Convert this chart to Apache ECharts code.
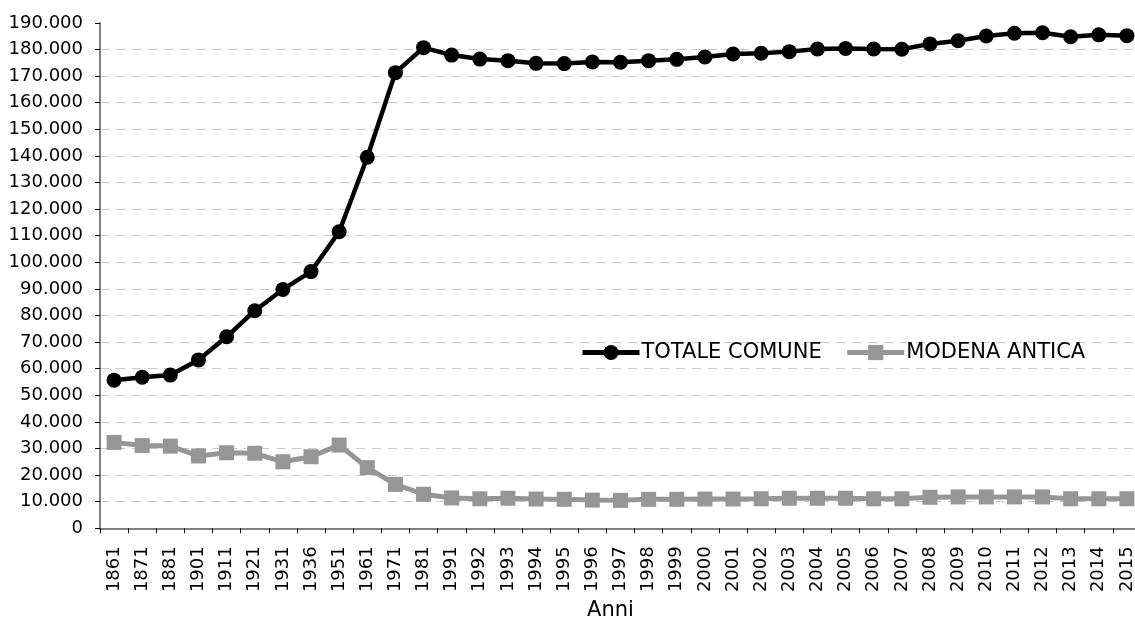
<!DOCTYPE html>
<html>
<head>
<meta charset="utf-8">
<script src="https://cdn.jsdelivr.net/npm/echarts@6/dist/echarts.min.js"></script>
<style>
html,body{margin:0;padding:0;background:#fff;}
#chart{width:1135px;height:617px;}
</style>
</head>
<body>
<div id="chart"></div>
<script>
var years = ['1861','1871','1881','1901','1911','1921','1931','1936','1951','1961','1971','1981','1991','1992','1993','1994','1995','1996','1997','1998','1999','2000','2001','2002','2003','2004','2005','2006','2007','2008','2009','2010','2011','2012','2013','2014','2015'];
var totaleComune = [55700,56800,57600,63300,72000,81800,89800,96500,111500,139500,171300,180700,177900,176400,175800,174800,174700,175300,175200,175800,176300,177200,178300,178600,179200,180200,180400,180200,180100,182100,183300,185100,186100,186300,184800,185500,185200];
var modenaAntica = [32300,31100,30900,27200,28400,28200,25000,26900,31300,22800,16500,12800,11400,11100,11300,11000,10900,10600,10500,10900,10900,11000,11000,11100,11300,11300,11300,11100,11100,11650,11800,11800,11800,11800,11100,11100,11100];
var seriesNames = ['TOTALE COMUNE','MODENA ANTICA'];
var axisTitle = 'Anni';

var chart = echarts.init(document.getElementById('chart'), null, {renderer:'canvas'});
var font = 'DejaVu Sans';
function fmt(v){
  if (v === 0) return '0';
  return String(v).replace(/\B(?=(\d{3})+(?!\d))/g, '.');
}
chart.setOption({
  animation:false,
  backgroundColor:'#fff',
  grid:{left:100, right:-6, top:22.9, bottom:88.7, containLabel:false, outerBoundsMode:'none'},
  legend:{
    left:575, top:337,
    itemWidth:57, itemHeight:19, itemGap:23,
    lineStyle:{width:5},
    textStyle:{fontFamily:font, fontSize:21, color:'#000', padding:[0,0,0,-3]},
    data:seriesNames
  },
  xAxis:{
    type:'category', data:years, boundaryGap:true,
    name:axisTitle, nameLocation:'middle', nameGap:70,
    nameTextStyle:{fontFamily:font, fontSize:21, color:'#000', padding:[0,20,0,0]},
    axisLine:{lineStyle:{color:'#808080', width:2}},
    axisTick:{show:true, length:5, lineStyle:{color:'#000', width:1}, alignWithLabel:false},
    axisLabel:{rotate:90, fontFamily:font, fontSize:18, color:'#000', margin:18, interval:0},
    splitLine:{show:false}
  },
  yAxis:{
    type:'value', min:0, max:190000, interval:10000,
    axisLine:{show:true, lineStyle:{color:'#808080', width:2}},
    axisTick:{show:true, length:5, lineStyle:{color:'#000', width:1}},
    axisLabel:{fontFamily:font, fontSize:18, color:'#000', margin:17, formatter:fmt},
    splitLine:{show:true, showMaxLine:false, showMinLine:false, lineStyle:{color:'#c8c8c8', width:1, type:[9,7]}}
  },
  series:[
    {name:seriesNames[0], type:'line', data:totaleComune,
     symbol:'circle', symbolSize:15,
     lineStyle:{color:'#000', width:4.5},
     itemStyle:{color:'#000'}, z:3},
    {name:seriesNames[1], type:'line', data:modenaAntica,
     symbol:'rect', symbolSize:15,
     lineStyle:{color:'#969696', width:5},
     itemStyle:{color:'#969696'}, z:2}
  ]
});
</script>
</body>
</html>
